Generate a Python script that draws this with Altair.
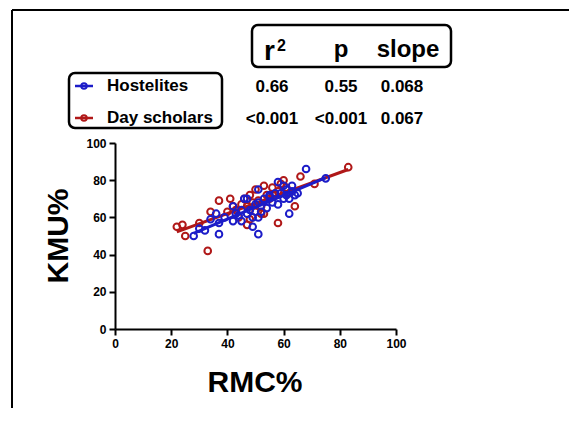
import altair as alt
import pandas as pd

# ---------------- data ----------------
GROUPS = ["Hostelites", "Day scholars"]
COLORS = ["#1c1cc8", "#b01818"]

hostel_rmc = [28, 30, 32, 34, 36, 37, 37, 39, 42, 42, 43, 44, 45, 45, 46, 47, 47, 48, 49, 49,
              50, 51, 51, 51, 51, 52, 53, 54, 55, 55, 56, 57, 58, 58, 59, 60, 60, 61, 61, 62,
              62, 63, 63, 64, 65, 68, 75]
hostel_kmu = [50, 54, 53, 59, 62, 51, 57, 60, 66, 58, 62, 61, 58, 64, 70, 62, 70, 64, 55, 60,
              67, 51, 60, 68, 75, 63, 70, 65, 72, 71, 68, 73, 79, 67, 73, 77, 70, 75, 72, 62,
              70, 77, 74, 72, 73, 86, 81]

day_rmc = [22, 24, 25, 30, 33, 34, 37, 40, 41, 42, 43, 44, 45, 46, 47, 47, 48, 48, 49, 50,
           50, 51, 52, 52, 53, 53, 54, 55, 56, 57, 58, 58, 59, 60, 61, 62, 64, 66, 71, 83]
day_kmu = [55, 56, 50, 57, 42, 63, 69, 63, 70, 66, 64, 60, 67, 70, 56, 66, 59, 72, 68, 75,
           63, 69, 66, 62, 77, 62, 72, 70, 76, 72, 57, 74, 78, 80, 76, 73, 66, 82, 78, 87]

HEADERS = ["p", "slope"]
R_LABEL = "r"
R_SUP = "2"
HOSTEL_STATS = ["0.66", "0.55", "0.068"]
DAY_STATS = ["<0.001", "<0.001", "0.067"]
TICKS = [0, 20, 40, 60, 80, 100]

df = pd.concat([
    pd.DataFrame({"rmc": hostel_rmc, "kmu": hostel_kmu, "group": GROUPS[0]}),
    pd.DataFrame({"rmc": day_rmc, "kmu": day_kmu, "group": GROUPS[1]}),
])
dummy = pd.DataFrame({"a": [0]})

FONT = "Liberation Sans"

x_enc = alt.X("rmc:Q", scale=alt.Scale(domain=[0, 100], nice=False),
              axis=alt.Axis(values=TICKS, title=None))
y_enc = alt.Y("kmu:Q", scale=alt.Scale(domain=[0, 100], nice=False),
              axis=alt.Axis(values=TICKS, title=None))
color_enc = alt.Color("group:N", scale=alt.Scale(domain=GROUPS, range=COLORS), legend=None)

layers = []
for g in [GROUPS[1], GROUPS[0]]:
    pts = alt.Chart(df).transform_filter(alt.datum.group == g).mark_point(
        shape="circle", filled=False, size=44, strokeWidth=2, opacity=1
    ).encode(x=x_enc, y=y_enc, color=color_enc)
    line = alt.Chart(df).transform_filter(alt.datum.group == g).transform_regression(
        "rmc", "kmu", groupby=["group"]
    ).mark_line(strokeWidth=3).encode(x=x_enc, y=y_enc, color=color_enc)
    layers += [pts, line]


def text(t, x, y, size, align="center", baseline="middle", angle=0):
    kw = dict(text=t, font=FONT, fontSize=size, fontWeight="bold", color="black",
              align=align, baseline=baseline)
    if angle:
        kw["angle"] = angle
    return alt.Chart(dummy).mark_text(**kw).encode(x=alt.value(x), y=alt.value(y))


# outer frame (left + top edges)
layers.append(alt.Chart(dummy).mark_rule(color="black", strokeWidth=2).encode(
    x=alt.value(-103), y=alt.value(-133), y2=alt.value(265)))
layers.append(alt.Chart(dummy).mark_rule(color="black", strokeWidth=2).encode(
    x=alt.value(-103), x2=alt.value(460), y=alt.value(-133)))

# header box and legend box
layers.append(alt.Chart(dummy).mark_rect(fillOpacity=0, stroke="black", strokeWidth=2.5,
                                         cornerRadius=6).encode(
    x=alt.value(137), x2=alt.value(336), y=alt.value(-118), y2=alt.value(-76)))
layers.append(alt.Chart(dummy).mark_rect(fillOpacity=0, stroke="black", strokeWidth=2.5,
                                         cornerRadius=6).encode(
    x=alt.value(-46), x2=alt.value(107), y=alt.value(-70), y2=alt.value(-15)))

# header texts
layers.append(text(R_LABEL, 149, -83, 28, align="left", baseline="alphabetic"))
layers.append(text(R_SUP, 162, -92, 16, align="left", baseline="alphabetic"))
for t, xx in zip(HEADERS, [226, 293]):
    layers.append(text(t, xx, -86, 24, baseline="alphabetic"))

# stats rows
col_x = [157, 226, 287]
for t, xx in zip(HOSTEL_STATS, col_x):
    layers.append(text(t, xx, -56, 17))
for t, xx in zip(DAY_STATS, col_x):
    layers.append(text(t, xx, -24, 17))

# legend entries
for g, c, yy in zip(GROUPS, COLORS, [-57, -25]):
    layers.append(alt.Chart(dummy).mark_rule(color=c, strokeWidth=2.5).encode(
        x=alt.value(-40), x2=alt.value(-22), y=alt.value(yy)))
    layers.append(alt.Chart(dummy).mark_point(shape="circle", filled=False, size=30,
                                              strokeWidth=2, color=c, opacity=1).encode(
        x=alt.value(-31), y=alt.value(yy)))
    layers.append(text(g, -8, yy, 17, align="left"))

# axis titles
layers.append(text("RMC%", 140, 249, 30, baseline="alphabetic"))
layers.append(text("KMU%", -47, 93, 30, baseline="alphabetic", angle=270))

chart = alt.layer(*layers).properties(
    width=281, height=186,
    autosize=alt.AutoSizeParams(type="none"),
    padding={"left": 107, "top": 135, "right": 173, "bottom": 83},
).configure_view(stroke=None).configure_axis(
    labelFont=FONT, labelFontWeight="bold", labelFontSize=12, labelColor="black",
    domainColor="black", domainWidth=2, tickColor="black", tickWidth=2, tickSize=6,
    labelPadding=3, grid=False, labelFlush=False,
)

chart.save("out.html", embed_options={"renderer": "svg", "actions": False})
